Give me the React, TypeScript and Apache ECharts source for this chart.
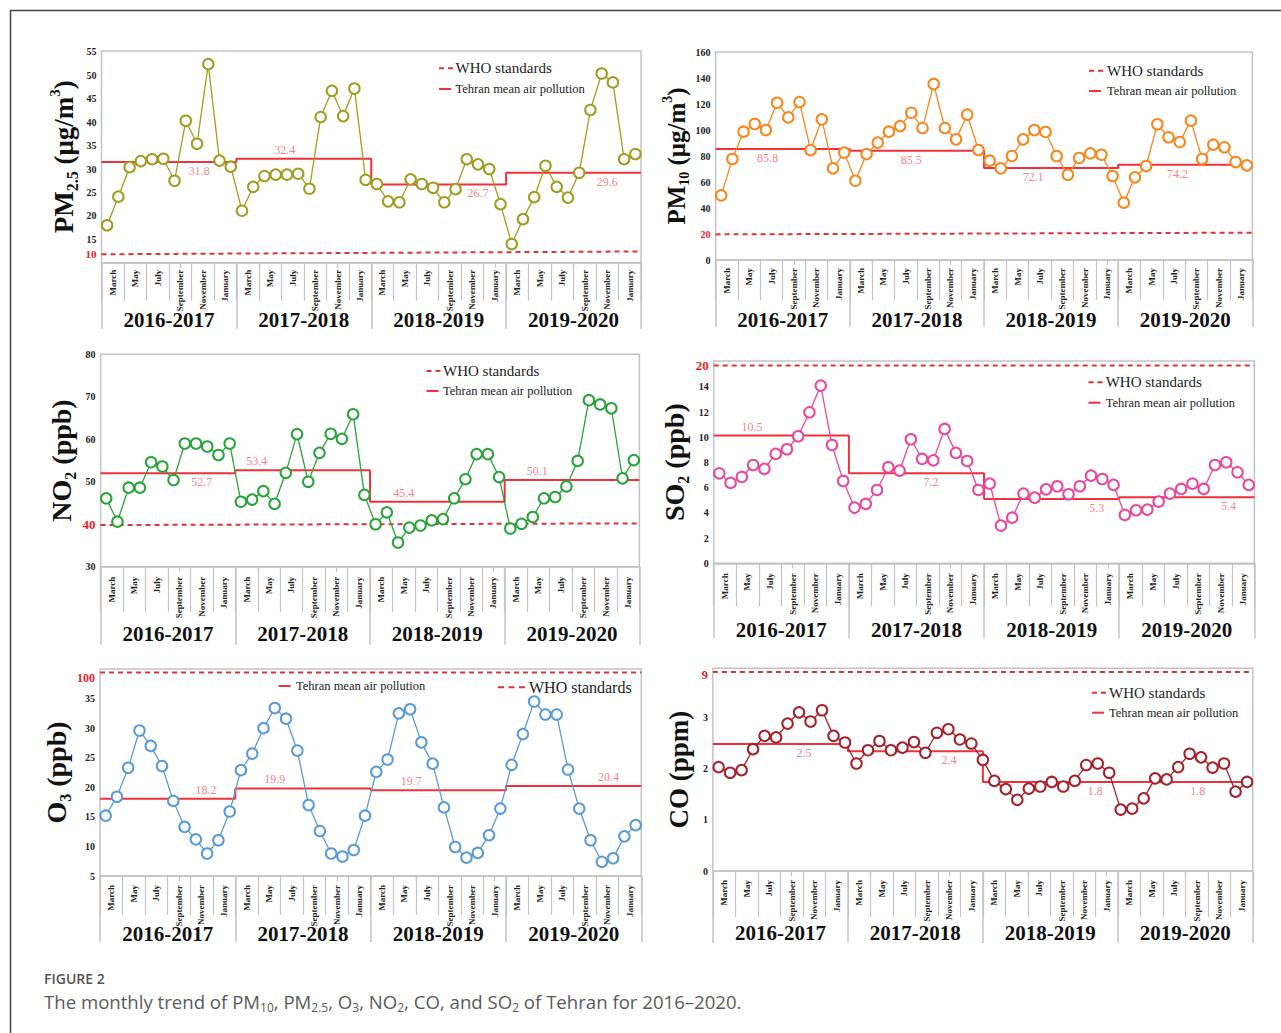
import React, { useEffect, useRef } from 'react';
import * as echarts from 'echarts';

const SERIF = '"Liberation Serif", "Times New Roman", serif';
const SANS = '"Open Sans", "Noto Sans", sans-serif';
const BORDER = '#c3c3c3';
const MEAN_RED = '#f0303a';
const WHO_RED = '#d8343c';
const LABEL_RED = '#f2606a';
const TICK_RED = '#e8212b';

const monthNames = ['March', 'April', 'May', 'June', 'July', 'August', 'September', 'October', 'November', 'December', 'January', 'February'];
const pairLabels = ['March', 'May', 'July', 'September', 'November', 'January'];
const yearLabels = ['2016-2017', '2017-2018', '2018-2019', '2019-2020'];

// PM2.5 (µg/m3)
const pm25Values = [18.0, 24.1, 30.4, 31.7, 32.1, 32.2, 27.5, 40.3, 35.4, 52.4, 31.8, 30.5,
  21.1, 26.2, 28.5, 28.8, 28.8, 29.0, 25.8, 41.1, 46.7, 41.3, 47.2, 27.7,
  26.8, 23.1, 22.9, 27.8, 26.8, 26.0, 22.9, 25.7, 32.1, 31.0, 30.0, 22.5,
  14.0, 19.3, 24.0, 30.7, 26.2, 23.9, 29.2, 42.6, 50.4, 48.5, 32.1, 33.2];
const pm25MeanLevels = [31.5, 32.2, 26.7, 29.2];
const pm25MeanLabels = ['31.8', '32.4', '26.7', '29.6'];
const pm25Who = [11.8, 12.4];
const pm25TickValues = [10, 11.9, 15, 20, 25, 30, 35, 40, 45, 50, 55];
const pm25TickLabels = ['8', '10', '15', '20', '25', '30', '35', '40', '45', '50', '55'];

// PM10 (µg/m3)
const pm10Values = [49.7, 77.7, 98.7, 104.6, 100, 121, 109.7, 121.5, 84.5, 108.2, 70.5, 82.6,
  61.0, 81.5, 90.3, 98.7, 103, 113.3, 101.5, 135.4, 101.5, 92.8, 111.8, 84.6,
  76.4, 70.5, 80, 92.8, 100, 98.5, 80, 65.6, 78.5, 82, 81, 64.6,
  44.1, 63.6, 72.3, 104.4, 94.4, 90.8, 107.2, 77.7, 88.7, 86.7, 75.4, 72.8];
const pm10MeanLevels = [85.4, 84.1, 70.8, 73.3];
const pm10MeanLabels = ['85.8', '85.5', '72.1', '74.2'];
const pm10Who = [19.7, 21];
const pm10TickValues = [0, 20, 40, 60, 80, 100, 120, 140, 160];
const pm10TickLabels = ['0', '20', '40', '60', '80', '100', '120', '140', '160'];

// NO2 (ppb)
const no2Values = [46.1, 40.6, 48.6, 48.6, 54.6, 53.6, 50.4, 59.0, 59.0, 58.3, 56.3, 59.0,
  45.3, 45.8, 47.8, 44.8, 52.1, 61.2, 50.0, 56.8, 61.3, 60.1, 65.9, 46.9,
  40.0, 42.8, 35.7, 39.2, 39.7, 40.9, 41.2, 46.1, 50.6, 56.5, 56.5, 51.1,
  39.0, 40.1, 41.7, 46.1, 46.4, 48.9, 54.9, 69.2, 68.2, 67.3, 50.8, 55.1];
const no2MeanLevels = [52.0, 52.7, 45.3, 50.4];
const no2MeanLabels = ['52.7', '53.4', '45.4', '50.1'];
const no2Who = [39.8, 40.2];
const no2TickValues = [30, 40, 50, 60, 70, 80];
const no2TickLabels = ['30', '40', '50', '60', '70', '80'];

// SO2 (ppb)
const so2Values = [7.14, 6.38, 6.85, 7.80, 7.49, 8.68, 9.05, 10.08, 11.98, 14.1, 9.39, 6.53,
  4.42, 4.71, 5.82, 7.62, 7.35, 9.84, 8.28, 8.17, 10.66, 8.76, 8.12, 5.82,
  6.32, 2.99, 3.62, 5.53, 5.21, 5.87, 6.11, 5.48, 6.11, 6.96, 6.69, 6.22,
  3.84, 4.21, 4.26, 4.89, 5.53, 5.90, 6.32, 5.90, 7.80, 8.02, 7.22, 6.22];
const so2MeanLevels = [10.13, 7.14, 5.1, 5.24];
const so2MeanLabels = ['10.5', '7.2', '5.3', '5.4'];
const so2Who = [15.7, 15.7];
const so2TickValues = [0, 2, 4, 6, 8, 10, 12, 14, 15.7];
const so2TickLabels = ['0', '2', '4', '6', '8', '10', '12', '14', '20'];

// O3 (ppb)
const o3Values = [15.2, 18.4, 23.3, 29.6, 27.0, 23.6, 17.7, 13.3, 11.2, 8.8, 11.05, 15.9,
  22.9, 25.7, 30.0, 33.4, 31.6, 26.2, 17.0, 12.6, 8.8, 8.3, 9.4, 15.2,
  22.6, 24.7, 32.5, 33.2, 27.6, 24.0, 16.6, 9.9, 8.1, 8.9, 11.9, 16.4,
  23.8, 29.0, 34.5, 32.3, 32.3, 23.0, 16.4, 11.05, 7.4, 8.0, 11.7, 13.6];
const o3MeanLevels = [18.05, 19.8, 19.5, 20.2];
const o3MeanLabels = ['18.2', '19.9', '19.7', '20.4'];
const o3Who = [39.4, 39.4];
const o3TickValues = [5, 10, 15, 20, 25, 30, 35, 38.5];
const o3TickLabels = ['5', '10', '15', '20', '25', '30', '35', '100'];

// CO (ppm) — 47 monthly points in the source figure
const coValues = [2.03, 1.92, 1.97, 2.38, 2.64, 2.61, 2.88, 3.10, 2.92, 3.14, 2.64, 2.51,
  2.10, 2.36, 2.54, 2.36, 2.41, 2.52, 2.31, 2.70, 2.77, 2.57, 2.49, 2.17,
  1.76, 1.60, 1.39, 1.61, 1.65, 1.74, 1.65, 1.76, 2.07, 2.10, 1.92,
  1.20, 1.22, 1.42, 1.81, 1.79, 2.03, 2.29, 2.22, 2.02, 2.10, 1.55, 1.74];
const coMeanLevels = [2.48, 2.34, 1.74, 1.74];
const coMeanLabels = ['2.5', '2.4', '1.8', '1.8'];
const coWho = [3.89, 3.89];
const coTickValues = [0, 1, 2, 3, 3.83];
const coTickLabels = ['0', '1', '2', '3', '9'];

type Panel = {
  name: string; values: number[]; color: string;
  means: number[]; meanLabels: string[]; who: number[];
  ticks: number[]; tickLabels: string[]; redLabel: string; redSize: number;
  yMin: number; yMax: number;
  box: number[]; labelAt: [number, string][];
  titleSize: number; nameGap: number;
  monthTick: number; yearTick: number; monthMargin: number; yearMargin: number;
  legend: { whoIcon: number[]; whoText: number[]; whoSize: number; whoIconLen: number; tehIcon: number[]; tehText: number[]; tehSize: number };
};

const panels: Panel[] = [
  {
    name: '{m|PM}{s|2.5}{m| (μg/m}{p|3}{m|)}', values: pm25Values, color: '#a29c21',
    means: pm25MeanLevels, meanLabels: pm25MeanLabels, who: pm25Who,
    ticks: pm25TickValues, tickLabels: pm25TickLabels, redLabel: '10', redSize: 11,
    yMin: 10, yMax: 55.2, box: [101.5, 51, 539.5, 211.7],
    labelAt: [[8.7, 'bottom'], [16.3, 'top'], [33.5, 'bottom'], [45.0, 'bottom']],
    titleSize: 27, nameGap: 21, monthTick: 38, yearTick: 66, monthMargin: 7, yearMargin: 47,
    legend: { whoIcon: [439, 68.3], whoText: [455.5, 68.3], whoSize: 15, whoIconLen: 14, tehIcon: [439, 89], tehText: [455.5, 89], tehSize: 12.5 },
  },
  {
    name: '{m|PM}{s|10}{m| (μg/m}{p|3}{m|)}', values: pm10Values, color: '#f7861c',
    means: pm10MeanLevels, meanLabels: pm10MeanLabels, who: pm10Who,
    ticks: pm10TickValues, tickLabels: pm10TickLabels, redLabel: '20', redSize: 10,
    yMin: 0, yMax: 160, box: [715.6, 52, 536.8, 208],
    labelAt: [[4.65, 'bottom'], [17.5, 'bottom'], [28.4, 'bottom'], [41.3, 'bottom']],
    titleSize: 25, nameGap: 21, monthTick: 40, yearTick: 67, monthMargin: 8, yearMargin: 49,
    legend: { whoIcon: [1089, 70.7], whoText: [1107, 70.7], whoSize: 15, whoIconLen: 14, tehIcon: [1089, 91], tehText: [1107, 91], tehSize: 12.5 },
  },
  {
    name: '{m|NO}{s|2}{m| (ppb)}', values: no2Values, color: '#2aa33b',
    means: no2MeanLevels, meanLabels: no2MeanLabels, who: no2Who,
    ticks: no2TickValues, tickLabels: no2TickLabels, redLabel: '40', redSize: 13,
    yMin: 30, yMax: 80, box: [100.6, 354.3, 538.8, 212.4],
    labelAt: [[9.0, 'bottom'], [13.9, 'top'], [27.0, 'top'], [38.9, 'top']],
    titleSize: 28, nameGap: 21, monthTick: 45, yearTick: 78, monthMargin: 10, yearMargin: 57,
    legend: { whoIcon: [426.5, 371], whoText: [443, 371], whoSize: 15, whoIconLen: 14, tehIcon: [426.5, 391], tehText: [443, 391], tehSize: 12.5 },
  },
  {
    name: '{m|SO}{s|2}{m| (ppb)}', values: so2Values, color: '#e8489b',
    means: so2MeanLevels, meanLabels: so2MeanLabels, who: so2Who,
    ticks: so2TickValues, tickLabels: so2TickLabels, redLabel: '20', redSize: 13,
    yMin: 0, yMax: 16.05, box: [713.7, 361, 540.7, 202.3],
    labelAt: [[3.4, 'top'], [19.3, 'bottom'], [34.0, 'bottom'], [45.7, 'bottom']],
    titleSize: 28, nameGap: 20, monthTick: 43, yearTick: 75, monthMargin: 10, yearMargin: 56,
    legend: { whoIcon: [1088.5, 382.3], whoText: [1105.7, 382.3], whoSize: 15, whoIconLen: 14, tehIcon: [1088.5, 402.7], tehText: [1105.7, 402.7], tehSize: 12.5 },
  },
  {
    name: '{m|O}{s|3}{m| (ppb)}', values: o3Values, color: '#5b9bd5',
    means: o3MeanLevels, meanLabels: o3MeanLabels, who: o3Who,
    ticks: o3TickValues, tickLabels: o3TickLabels, redLabel: '100', redSize: 12,
    yMin: 5, yMax: 40, box: [100, 669, 541.3, 207],
    labelAt: [[9.4, 'top'], [15.5, 'top'], [27.6, 'top'], [45.1, 'top']],
    titleSize: 28, nameGap: 22, monthTick: 39, yearTick: 66, monthMargin: 9, yearMargin: 47,
    legend: { whoIcon: [498, 687.3], whoText: [529, 687.3], whoSize: 16, whoIconLen: 27, tehIcon: [278.6, 686], tehText: [296, 686], tehSize: 12.5 },
  },
  {
    name: '{m|CO (ppm)}', values: coValues, color: '#a3222b',
    means: coMeanLevels, meanLabels: coMeanLabels, who: coWho,
    ticks: coTickValues, tickLabels: coTickLabels, redLabel: '9', redSize: 13,
    yMin: 0, yMax: 3.96, box: [712.9, 668.3, 539.9, 202.7],
    labelAt: [[8.1, 'bottom'], [21.0, 'bottom'], [34.0, 'bottom'], [43.1, 'bottom']],
    titleSize: 27, nameGap: 17, monthTick: 46, yearTick: 72, monthMargin: 9, yearMargin: 51,
    legend: { whoIcon: [1092, 692.7], whoText: [1109, 692.7], whoSize: 15, whoIconLen: 14, tehIcon: [1092, 712.7], tehText: [1109, 712.7], tehSize: 12.5 },
  },
];

function buildOption() {
  const grid: any[] = [];
  const xAxis: any[] = [];
  const yAxis: any[] = [];
  const series: any[] = [];
  const graphic: any[] = [];
  const months48 = yearLabels.flatMap(() => monthNames);
  const pairs24 = yearLabels.flatMap(() => pairLabels);

  panels.forEach((p, gi) => {
    const [l, t, w, h] = p.box;
    grid.push({
      left: l, top: t, width: w, height: h, show: true,
      borderColor: BORDER, borderWidth: 1.5, backgroundColor: 'transparent',
      containLabel: false, outerBoundsMode: 'none',
    });
    const base = xAxis.length;
    xAxis.push({ type: 'category', gridIndex: gi, data: p.values.map((_, i) => String(i)), boundaryGap: true, show: false });
    xAxis.push({
      type: 'category', gridIndex: gi, position: 'bottom', data: months48, boundaryGap: true,
      axisLine: { show: true, onZero: false, lineStyle: { color: BORDER, width: 1.5 } },
      axisTick: { show: true, length: 5, lineStyle: { color: BORDER, width: 1.2 } },
      axisLabel: { show: false }, splitLine: { show: false },
    });
    xAxis.push({
      type: 'category', gridIndex: gi, position: 'bottom', data: pairs24, boundaryGap: true,
      axisLine: { show: false, onZero: false },
      axisTick: { show: true, length: p.monthTick, lineStyle: { color: BORDER, width: 1.2 } },
      axisLabel: { show: true, interval: 0, rotate: 90, margin: p.monthMargin, fontFamily: SERIF, fontWeight: 'bold', fontSize: 9, color: '#222' },
      splitLine: { show: false },
    });
    xAxis.push({
      type: 'category', gridIndex: gi, position: 'bottom', data: yearLabels, boundaryGap: true,
      axisLine: { show: false, onZero: false },
      axisTick: { show: true, length: p.yearTick, lineStyle: { color: BORDER, width: 1.5 } },
      axisLabel: { show: true, interval: 0, margin: p.yearMargin, fontFamily: SERIF, fontWeight: 'bold', fontSize: 21, color: '#111' },
      splitLine: { show: false },
    });
    xAxis.push({ type: 'value', gridIndex: gi, min: 0, max: 48, show: false });

    const ticks = p.ticks;
    const texts = p.tickLabels;
    const ts = p.titleSize;
    yAxis.push({
      type: 'value', gridIndex: gi, min: p.yMin, max: p.yMax,
      axisLine: { show: false }, axisTick: { show: false }, splitLine: { show: false },
      axisLabel: {
        customValues: ticks,
        margin: 5,
        fontFamily: SERIF, fontWeight: 'bold', fontSize: 10, color: '#222',
        formatter: (v: number) => {
          const i = ticks.findIndex((tv) => Math.abs(tv - v) < 1e-6);
          const txt = i >= 0 ? texts[i] : String(v);
          return txt === p.redLabel ? `{r|${txt}}` : txt;
        },
        rich: { r: { color: TICK_RED, fontWeight: 'bold', fontSize: p.redSize, fontFamily: SERIF } },
      },
      name: p.name, nameLocation: 'middle', nameGap: p.nameGap, nameRotate: 90,
      nameTextStyle: {
        fontFamily: SERIF, fontWeight: 'bold', fontSize: ts, color: '#111',
        rich: {
          m: { fontFamily: SERIF, fontWeight: 'bold', fontSize: ts, lineHeight: ts + 6, color: '#111', verticalAlign: 'middle' },
          s: { fontFamily: SERIF, fontWeight: 'bold', fontSize: Math.round(ts * 0.58), lineHeight: Math.round(ts * 0.58), color: '#111', verticalAlign: 'bottom' },
          p: { fontFamily: SERIF, fontWeight: 'bold', fontSize: Math.round(ts * 0.55), lineHeight: Math.round(ts * 0.55), color: '#111', verticalAlign: 'top' },
        },
      },
    });

    // WHO standard (dashed)
    series.push({
      type: 'line', xAxisIndex: base + 4, yAxisIndex: gi, silent: true, z: 1,
      data: [[0, p.who[0]], [48, p.who[1]]], symbol: 'none',
      lineStyle: { color: WHO_RED, width: 2, type: [5, 4] },
    });
    // yearly mean (step)
    const steps: number[][] = [];
    p.means.forEach((m, i) => { steps.push([i * 12, m]); steps.push([(i + 1) * 12, m]); });
    series.push({
      type: 'line', xAxisIndex: base + 4, yAxisIndex: gi, silent: true, z: 2,
      data: steps, symbol: 'none', lineStyle: { color: MEAN_RED, width: 2 },
    });
    // monthly values
    series.push({
      type: 'line', xAxisIndex: base, yAxisIndex: gi, z: 3,
      data: p.values, symbol: 'emptyCircle', symbolSize: 10.5, showAllSymbol: true,
      itemStyle: { color: p.color, borderWidth: 2.4 },
      lineStyle: { color: p.color, width: 1.3 },
    });
    // mean labels
    series.push({
      type: 'scatter', xAxisIndex: base + 4, yAxisIndex: gi, z: 4, silent: true,
      symbolSize: 0,
      data: p.meanLabels.map((txt, i) => ({
        value: [p.labelAt[i][0], p.means[i]],
        label: {
          show: true, position: p.labelAt[i][1], distance: 3, formatter: txt,
          color: LABEL_RED, fontFamily: SERIF, fontSize: 12,
        },
      })),
    });

    // legend
    const lg = p.legend;
    graphic.push({
      type: 'line', shape: { x1: lg.whoIcon[0], y1: lg.whoIcon[1], x2: lg.whoIcon[0] + lg.whoIconLen, y2: lg.whoIcon[1] },
      style: { stroke: WHO_RED, lineWidth: 2, lineDash: lg.whoIconLen > 20 ? [6, 4.5] : [5, 4] },
    });
    graphic.push({
      type: 'text', x: lg.whoText[0], y: lg.whoText[1],
      style: { text: 'WHO standards', fontFamily: SERIF, fontSize: lg.whoSize, fill: '#222', verticalAlign: 'middle', align: 'left' },
    });
    graphic.push({
      type: 'line', shape: { x1: lg.tehIcon[0], y1: lg.tehIcon[1], x2: lg.tehIcon[0] + 12, y2: lg.tehIcon[1] },
      style: { stroke: MEAN_RED, lineWidth: 2 },
    });
    graphic.push({
      type: 'text', x: lg.tehText[0], y: lg.tehText[1],
      style: { text: 'Tehran mean air pollution', fontFamily: SERIF, fontSize: lg.tehSize, fill: '#222', verticalAlign: 'middle', align: 'left' },
    });
  });

  // outer frame
  graphic.push({ type: 'line', shape: { x1: 10, y1: 10.5, x2: 1281, y2: 10.5 }, style: { stroke: '#444', lineWidth: 1.5 } });
  graphic.push({ type: 'line', shape: { x1: 10.5, y1: 10, x2: 10.5, y2: 1033 }, style: { stroke: '#444', lineWidth: 1.5 } });

  // caption
  graphic.push({
    type: 'text', x: 44, y: 978,
    style: { text: 'FIGURE 2', fontFamily: SANS, fontSize: 14, fontWeight: 600, fill: '#555', verticalAlign: 'middle', align: 'left' },
  });
  graphic.push({
    type: 'text', x: 44, y: 1001,
    style: {
      text: '{b|The monthly trend of PM}{s|10}{b|, PM}{s|2.5}{b|, O}{s|3}{b|, NO}{s|2}{b|, CO, and SO}{s|2}{b| of Tehran for 2016–2020.}',
      verticalAlign: 'middle', align: 'left',
      rich: {
        b: { fontFamily: SANS, fontSize: 18.6, lineHeight: 24, fill: '#5a5a5a', verticalAlign: 'middle' },
        s: { fontFamily: SANS, fontSize: 12, lineHeight: 12, fill: '#5a5a5a', verticalAlign: 'bottom' },
      },
    },
  });

  return { animation: false, backgroundColor: '#fff', grid, xAxis, yAxis, series, graphic };
}

export default function App() {
  const ref = useRef<HTMLDivElement>(null);
  useEffect(() => {
    if (!ref.current) return;
    const chart = echarts.init(ref.current, null, { renderer: 'svg' });
    chart.setOption(buildOption() as any);
    return () => chart.dispose();
  }, []);
  return (
    <div
      ref={ref}
      style={{ position: 'absolute', left: 0, top: 0, width: 1281, height: 1033, background: '#fff' }}
    />
  );
}
